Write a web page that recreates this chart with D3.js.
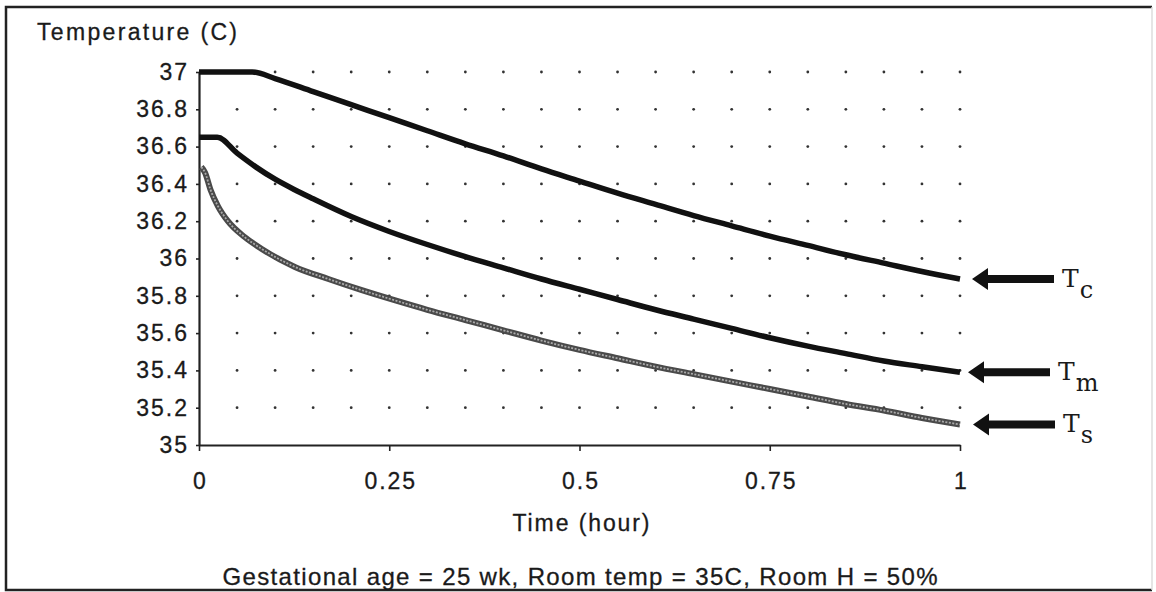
<!DOCTYPE html>
<html>
<head>
<meta charset="utf-8">
<script src="https://cdn.jsdelivr.net/npm/d3@7"></script>
<style>
  body { margin: 0; background: #fff; }
  svg { display: block; }
  text { font-family: 'Liberation Sans', Arial, Helvetica, sans-serif; fill: #1a1a1a; stroke: #1a1a1a; stroke-width: 0.3px; }
</style>
</head>
<body>
<script>
// ---------------- data ----------------
let timeTc = [0, 0.05, 0.07, 0.1, 0.15, 0.2, 0.25, 0.3, 0.35, 0.4, 0.45, 0.5, 0.55, 0.6, 0.65, 0.7, 0.75, 0.8, 0.85, 0.9, 0.95, 1]
let valTc  = [37, 37, 37, 36.965, 36.895, 36.825, 36.755, 36.685, 36.615, 36.55, 36.48, 36.415, 36.35, 36.29, 36.23, 36.175, 36.12, 36.07, 36.02, 35.975, 35.93, 35.89]

let timeTm = [0, 0.024, 0.05, 0.075, 0.1, 0.125, 0.15, 0.2, 0.25, 0.3, 0.35, 0.4, 0.45, 0.5, 0.55, 0.6, 0.65, 0.7, 0.75, 0.8, 0.85, 0.9, 0.95, 1]
let valTm  = [36.65, 36.65, 36.565, 36.49, 36.425, 36.37, 36.32, 36.225, 36.145, 36.075, 36.01, 35.95, 35.89, 35.835, 35.78, 35.725, 35.675, 35.625, 35.575, 35.53, 35.49, 35.45, 35.42, 35.39]

let timeTs = [0.003, 0.008, 0.015, 0.025, 0.038, 0.06, 0.083, 0.126, 0.17, 0.214, 0.258, 0.3, 0.35, 0.4, 0.45, 0.5, 0.55, 0.6, 0.65, 0.7, 0.75, 0.8, 0.85, 0.9, 0.95, 1]
let valTs  = [36.49, 36.46, 36.37, 36.28, 36.2, 36.115, 36.05, 35.955, 35.89, 35.83, 35.775, 35.725, 35.67, 35.615, 35.56, 35.51, 35.465, 35.42, 35.38, 35.34, 35.3, 35.26, 35.22, 35.185, 35.145, 35.11]

let xTicks = [0, 0.25, 0.5, 0.75, 1]
let xTickLabels = ['0', '0.25', '0.5', '0.75', '1']
let yTicks = [35, 35.2, 35.4, 35.6, 35.8, 36, 36.2, 36.4, 36.6, 36.8, 37]
let yTickLabels = ['35', '35.2', '35.4', '35.6', '35.8', '36', '36.2', '36.4', '36.6', '36.8', '37']

let seriesNames = ['c', 'm', 's']

let width = 1156
let height = 592
let plotLeft = 199, plotRight = 960, plotTop = 72, plotBottom = 445

let svg = d3.select('body').append('svg')
  .attr('width', width)
  .attr('height', height)

// outer frame
svg.append('path')
  .attr('d', `M${width - 4},7 H6 V590 H${width - 4}`)
  .attr('fill', 'none')
  .attr('stroke', '#222')
  .attr('stroke-width', 2.5)
svg.append('line')
  .attr('x1', width - 4).attr('x2', width - 4).attr('y1', 7).attr('y2', 590)
  .attr('stroke', '#ddd').attr('stroke-width', 1.5)

let xScale = d3.scaleLinear().domain([0, 1]).range([plotLeft, plotRight])
let yScale = d3.scaleLinear().domain([35, 37]).range([plotBottom, plotTop])

// dotted grid
let gridX = d3.range(1, 21).map(i => i * 0.05)
let gridY = yTicks.slice(1)
let dots = []
gridX.forEach(gx => gridY.forEach(gy => dots.push([gx, gy])))
svg.append('g').selectAll('circle')
  .data(dots)
  .enter()
  .append('circle')
  .attr('cx', d => xScale(d[0]))
  .attr('cy', d => yScale(d[1]))
  .attr('r', 1.4)
  .attr('fill', '#333')

// axes
let xAxis = d3.axisBottom(xScale)
  .tickValues(xTicks)
  .tickFormat((d, i) => xTickLabels[i])
  .tickSizeInner(6)
  .tickSizeOuter(0)
  .tickPadding(22)

let yAxis = d3.axisLeft(yScale)
  .tickValues(yTicks)
  .tickFormat((d, i) => yTickLabels[i])
  .tickSizeInner(3)
  .tickSizeOuter(0)
  .tickPadding(9)

let gx = svg.append('g')
  .attr('transform', 'translate(0,' + plotBottom + ')')
  .call(xAxis)
let gy = svg.append('g')
  .attr('transform', 'translate(' + plotLeft + ',0)')
  .call(yAxis)

;[gx, gy].forEach(g => {
  g.select('.domain').attr('stroke', '#222').attr('stroke-width', 2.2)
  g.selectAll('.tick line').attr('stroke', '#222').attr('stroke-width', 1.6)
  g.selectAll('.tick text')
    .attr('font-size', 23)
    .attr('fill', '#1a1a1a')
    .style('font-family', "'Liberation Sans', Arial, sans-serif")
    .style('letter-spacing', '2px')
})
gx.selectAll('.tick text').attr('dx', 1)
gy.selectAll('.tick text').attr('dx', 2)

// lines
let line = d3.line()
  .x(d => xScale(d[0]))
  .y(d => yScale(d[1]))
  .curve(d3.curveMonotoneX)

let tcData = d3.zip(timeTc, valTc)
let tmData = d3.zip(timeTm, valTm)
let tsData = d3.zip(timeTs, valTs)

svg.append('path').datum(tcData)
  .attr('d', line).attr('fill', 'none')
  .attr('stroke', '#111').attr('stroke-width', 5.5).attr('stroke-linejoin', 'round')

svg.append('path').datum(tmData)
  .attr('d', line).attr('fill', 'none')
  .attr('stroke', '#111').attr('stroke-width', 5.5).attr('stroke-linejoin', 'round')

// Ts is the grey hatched one
svg.append('path').datum(tsData)
  .attr('d', line).attr('fill', 'none')
  .attr('stroke', '#4a4a4a').attr('stroke-width', 6).attr('stroke-linejoin', 'round')
svg.append('path').datum(tsData)
  .attr('d', line).attr('fill', 'none')
  .attr('stroke', '#aaa').attr('stroke-width', 1.8)
  .attr('stroke-dasharray', '2 1.5')

// arrows + T labels at the right end
let ends = [valTc[valTc.length - 1], valTm[valTm.length - 1], valTs[valTs.length - 1]]
let tipX = [xScale(1) + 12, xScale(1) + 8, xScale(1) + 13]

ends.forEach((v, i) => {
  let y = yScale(v)
  let x0 = tipX[i]
  let g = svg.append('g')
  g.append('path')
    .attr('d', `M${x0},${y} L${x0 + 16},${y - 11} L${x0 + 16},${y - 4} L${x0 + 82},${y - 4} L${x0 + 82},${y + 4} L${x0 + 16},${y + 4} L${x0 + 16},${y + 11} Z`)
    .attr('fill', '#111')
  let t = g.append('text')
    .attr('x', x0 + 90)
    .attr('y', y + 8)
    .style('font-family', "'DejaVu Serif', 'Liberation Serif', serif")
    .style('stroke-width', '0px')
    .attr('font-size', 25)
    .attr('fill', '#222')
  t.append('tspan').text('T')
  t.append('tspan').attr('dy', 11).attr('dx', 1).attr('font-size', 24).text(seriesNames[i])
})

// titles
svg.append('text')
  .attr('x', 37).attr('y', 40)
  .attr('font-size', 23)
  .attr('textLength', 200).attr('lengthAdjust', 'spacing')
  .text('Temperature  (C)')

svg.append('text')
  .attr('x', 581).attr('y', 531)
  .attr('text-anchor', 'middle')
  .attr('font-size', 23)
  .attr('textLength', 137).attr('lengthAdjust', 'spacing')
  .text('Time  (hour)')

svg.append('text')
  .attr('x', 580).attr('y', 585)
  .attr('text-anchor', 'middle')
  .attr('font-size', 24)
  .attr('textLength', 715).attr('lengthAdjust', 'spacing')
  .text('Gestational age = 25 wk, Room temp = 35C, Room H = 50%')
</script>
</body>
</html>
